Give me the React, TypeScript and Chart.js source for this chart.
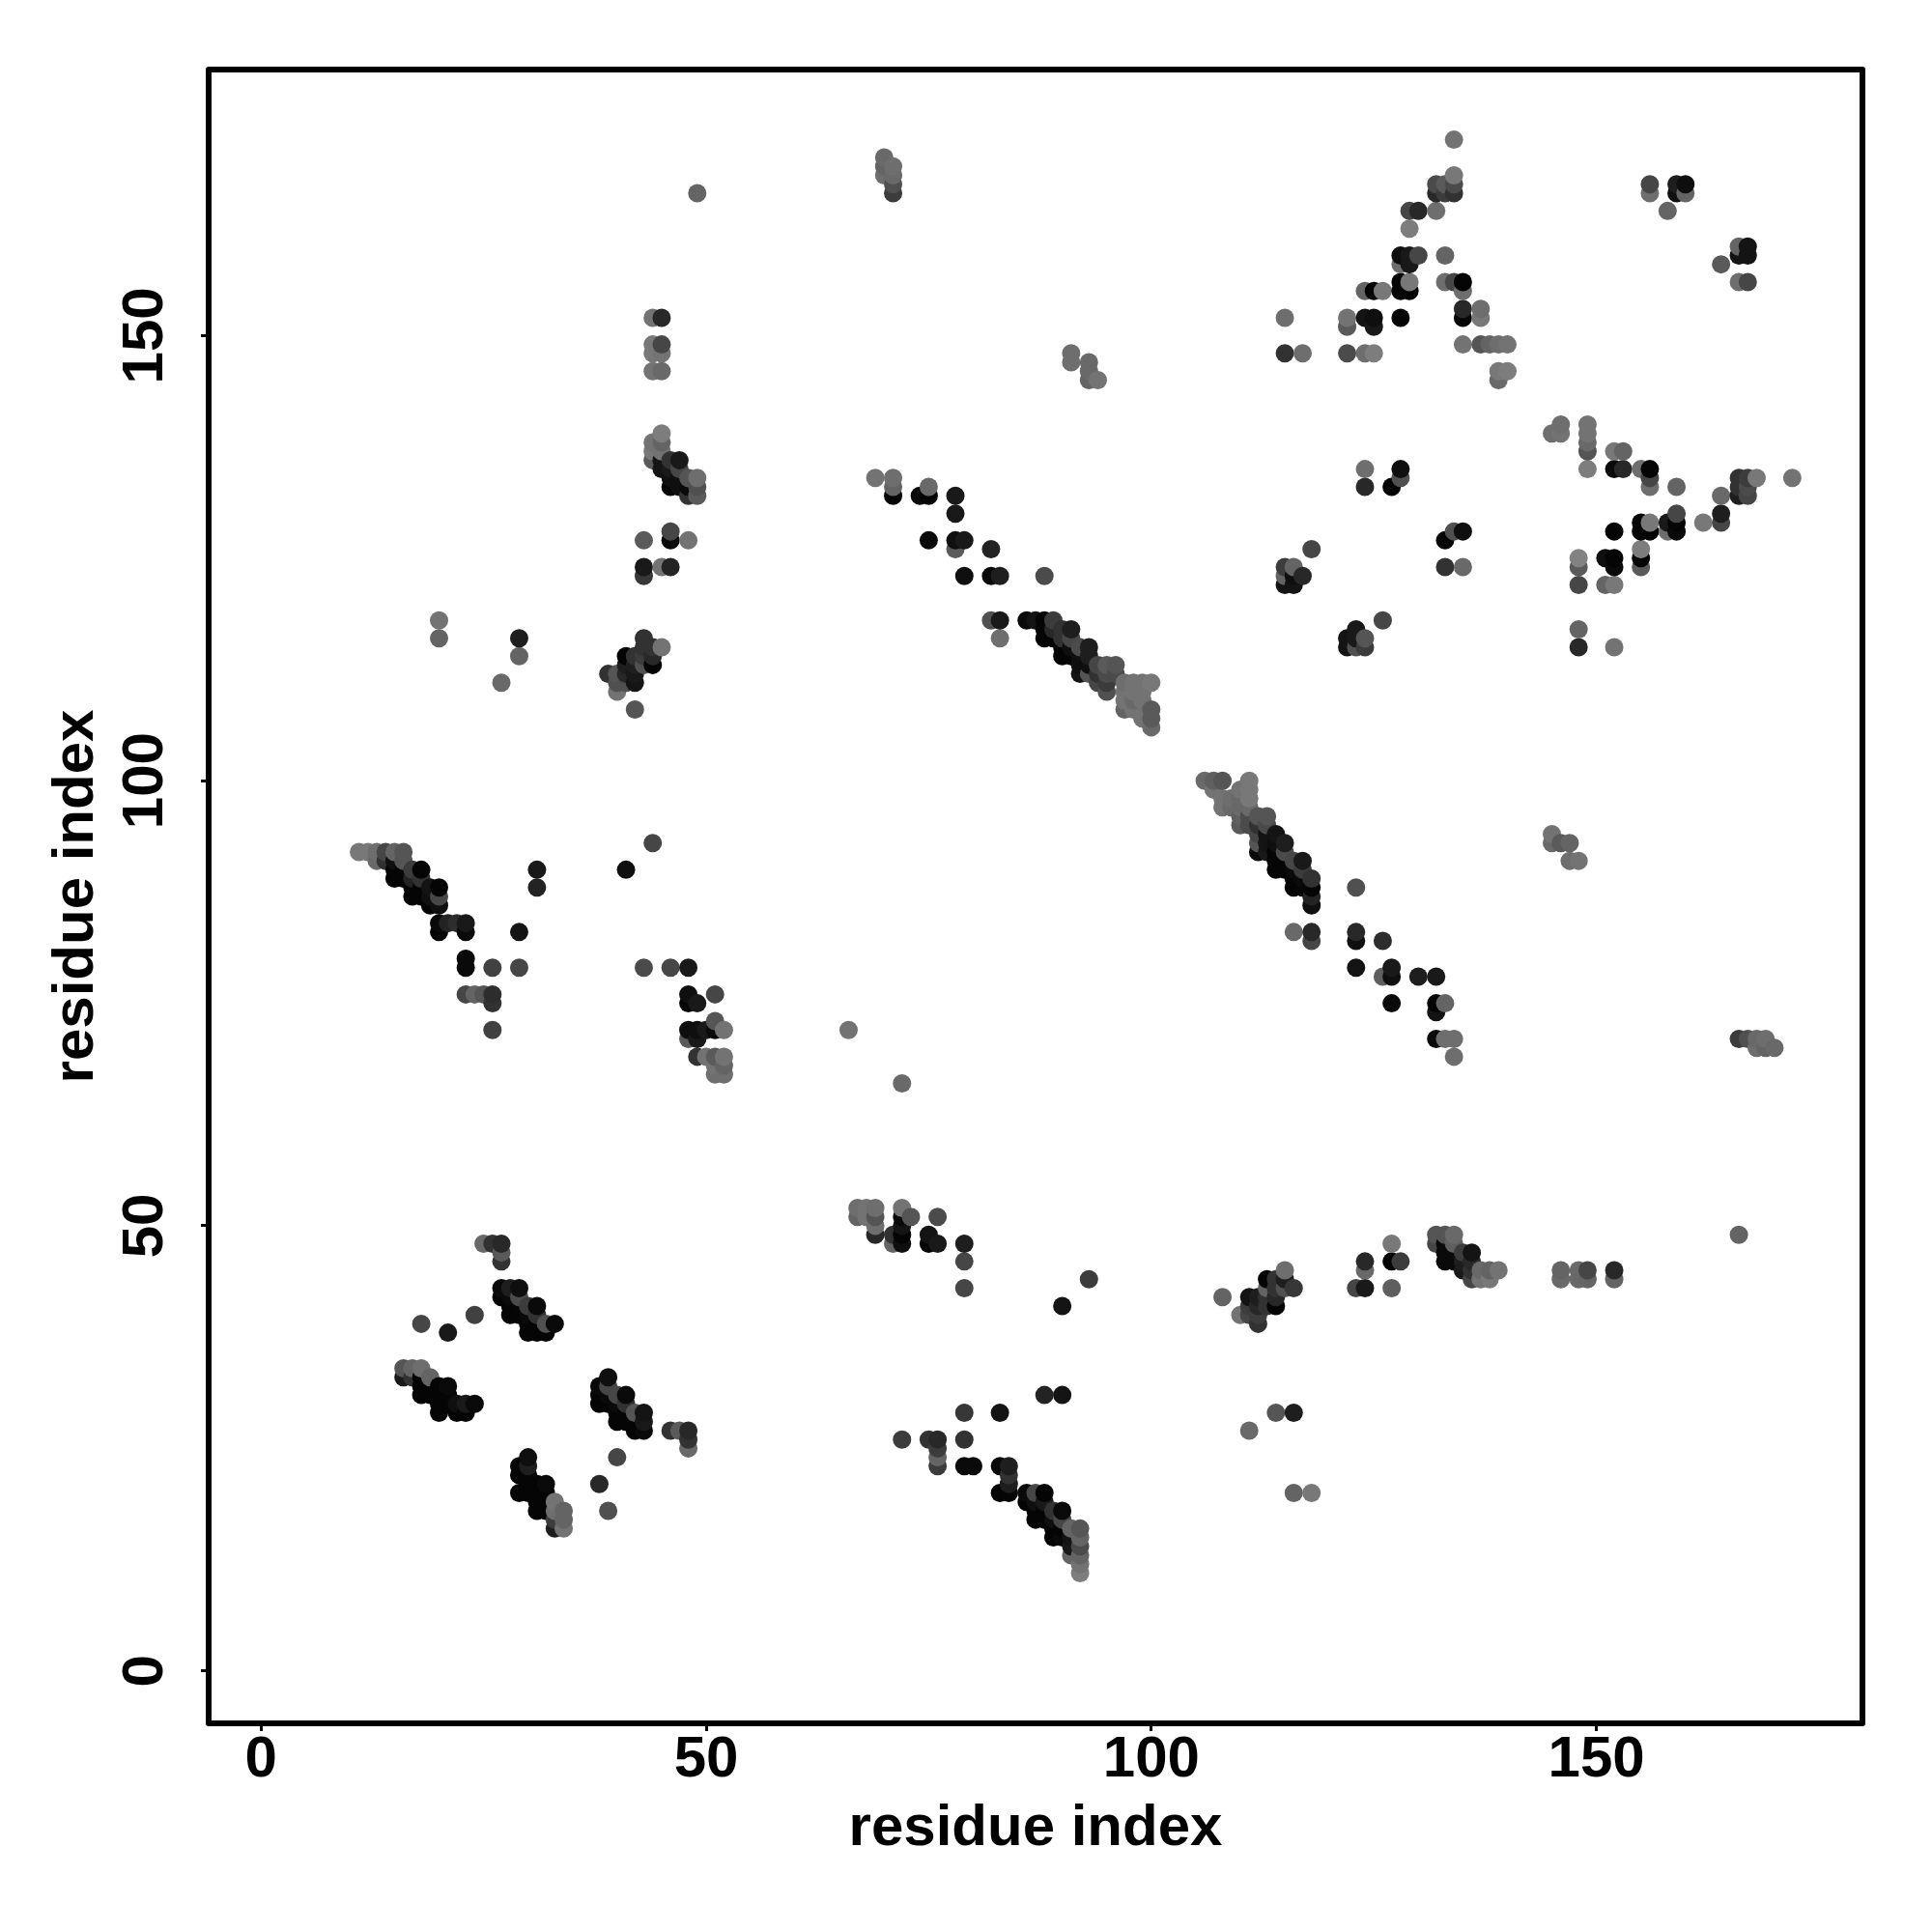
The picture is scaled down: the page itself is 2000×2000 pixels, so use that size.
import React, { useEffect, useRef } from "react";
import { Chart, registerables } from "chart.js";

Chart.register(...registerables);

type Contact = [number, number, number]; // residue x, residue y, grey level

const axisTicks = [0, 50, 100, 150];
const axisTitle = "residue index";

const strandA: Contact[] = [
  [11,92,120],[12,92,120],[13,92,110],[14,92,70],[15,92,100],[16,92,85],
  [13,91,105],[14,91,50],[15,91,15],[16,91,85],
  [15,90,5],[16,90,5],[17,90,60],[18,90,5],
  [15,89,5],[16,89,5],[17,89,35],[18,89,50],
  [17,88,5],[18,88,5],[19,88,20],[20,88,5],
  [17,87,5],[18,87,5],[19,87,15],[20,87,70],
  [19,86,5],[20,86,15],
  [20,84,10],[21,84,35],[22,84,45],[23,84,25],[20,83,5],[23,83,10],
];

const strandATail: Contact[] = [
  [23,80,10],[23,79,10],[26,79,65],[29,79,70],
  [23,76,70],[24,76,100],[25,76,85],[26,76,45],[26,75,50],[26,72,65],
  [31,90,25],[31,88,35],[29,83,20],[41,90,15],[44,93,70],
];

const cluster48: Contact[] = [
  [43,79,75],[46,79,70],[48,79,25],[48,76,15],[48,75,5],[49,75,25],[51,76,70],
  [48,72,15],[49,72,15],[50,72,25],[51,73,85],[51,72,10],[52,72,115],[48,71,90],[49,71,25],
  [49,69,50],[50,69,115],[51,69,90],[52,69,115],[51,68,115],[52,68,100],[51,67,110],[52,67,110],
  [66,72,115],[72,66,105],
];

const strandAMirror: Contact[] = [
  [83,20,5],[84,20,5],[84,21,30],[84,22,50],[84,23,30],[83,23,10],[79,23,10],[80,23,10],
  [76,23,60],[76,24,100],[76,25,60],[76,26,40],[75,26,50],[72,26,60],[79,26,50],
  [79,29,55],[83,29,20],[88,31,35],[90,31,20],[90,41,20],[93,44,60],[79,43,70],[79,46,70],[79,48,30],
  [86,20,10],[87,20,70],[88,20,5],
  [86,19,5],[87,19,15],[88,19,25],
  [87,18,5],[88,18,5],[89,18,50],[90,18,10],
  [87,17,5],[88,17,5],[89,17,15],[90,17,70],
  [89,16,5],[90,16,5],[91,16,100],[92,16,85],
  [89,15,5],[90,15,10],[91,15,20],[92,15,100],
  [91,14,25],[92,14,75],[91,13,100],[92,13,100],[92,12,115],[92,11,125],
];

const cluster70Low: Contact[] = [
  [67,52,110],[68,52,115],[69,52,110],[72,52,115],
  [67,51,100],[68,51,115],[69,51,85],[72,51,10],[73,51,85],[76,51,75],
  [69,50,110],[72,50,20],
  [69,49,40],[71,49,50],[72,49,5],[75,49,20],
  [71,48,100],[72,48,15],[75,48,5],[76,48,25],
];

const strandB: Contact[] = [
  [16,34,85],[17,34,100],[18,34,110],[16,33,25],[17,33,50],[18,33,5],[19,33,100],
  [18,32,5],[19,32,5],[20,32,5],[21,32,10],
  [18,31,5],[19,31,5],[20,31,5],[21,31,5],
  [20,30,5],[21,30,5],[22,30,15],[23,30,25],[24,30,10],
  [20,29,5],[22,29,5],[23,29,5],
];

const strandBMirror: Contact[] = [
  [30,24,15],[29,23,5],[30,23,30],[29,22,5],[30,22,5],[30,21,5],[31,21,5],[32,21,10],
  [29,20,5],[30,20,5],[31,20,5],[32,20,5],[31,19,5],[32,19,5],[33,19,115],
  [31,18,5],[32,18,5],[33,18,110],[34,18,100],[33,17,60],[34,17,100],[33,16,30],[34,16,115],
];

const loose20to48: Contact[] = [
  [18,39,70],[21,38,25],[24,40,65],[25,48,105],[26,48,50],[27,48,40],[27,47,90],[27,46,50],
  [48,25,105],[48,26,50],[48,27,40],[47,27,90],[46,27,50],[38,21,40],[40,24,70],[39,18,80],
];

const strandC: Contact[] = [
  [27,43,10],[28,43,30],[29,43,15],[27,42,5],[28,42,10],[29,42,75],
  [28,41,5],[29,41,5],[30,41,60],[31,41,10],[28,40,5],[29,40,5],[30,40,10],[31,40,50],
  [30,39,5],[31,39,5],[32,39,80],[33,39,10],[30,38,5],[31,38,5],[32,38,5],
];

const strandCMirror: Contact[] = [
  [39,33,15],[38,32,10],[39,32,70],[38,31,5],[39,31,10],[40,31,70],[41,31,10],
  [38,30,5],[39,30,5],[40,30,10],[41,30,50],[40,29,5],[41,29,5],[42,29,85],[43,29,20],
  [40,28,5],[41,28,5],[42,28,5],[43,28,25],[42,27,5],[43,27,10],
];

const column44: Contact[] = [
  [44,152,115],[45,152,40],[44,149,120],[45,149,70],[44,148,120],[45,148,115],[44,146,115],[45,146,105],
  [45,139,125],[44,138,115],[45,138,100],[44,137,120],[45,137,115],[44,136,90],[45,136,20],[46,136,50],[47,136,25],
  [45,135,20],[46,135,25],[47,135,70],[46,134,15],[47,134,15],[48,134,85],[49,134,110],
  [46,133,5],[47,133,15],[48,133,10],[49,133,80],[48,132,50],[49,132,90],
  [43,127,90],[46,128,70],[46,127,10],[48,127,115],[43,124,25],[43,123,55],[45,124,115],[46,124,35],
  [43,116,50],[43,115,50],[44,115,50],[45,115,115],[41,114,5],[42,114,50],[43,114,60],[44,114,40],
  [41,113,30],[42,113,30],[43,113,80],[44,113,5],[39,112,50],[40,112,85],[41,112,40],[42,112,25],
  [40,111,80],[41,111,80],[42,111,20],[40,110,115],[42,108,85],
  [20,118,115],[20,116,100],[29,116,30],[29,114,100],[27,111,105],[49,166,100],
];

const column44Mirror: Contact[] = [
  [108,42,100],[111,42,20],[112,42,30],[113,42,50],[114,42,40],
  [113,44,5],[114,44,50],[115,45,110],[115,44,30],[116,43,55],[114,43,50],[115,43,80],[113,43,100],
  [111,41,60],[112,41,40],[113,41,50],[114,41,5],[110,40,115],[111,40,70],[112,40,60],[112,39,50],
  [118,20,120],[116,20,100],[116,29,30],[114,29,85],[111,27,105],[166,49,100],
  [123,43,70],[124,43,25],[127,43,95],[124,45,105],[124,46,40],[127,46,5],[128,46,60],[127,48,120],
  [132,49,85],[133,49,85],[134,49,105],[132,48,70],[133,48,10],[134,48,95],
  [133,47,10],[134,47,10],[135,47,60],[136,47,20],[133,46,10],[134,46,10],[135,46,30],[136,46,40],
  [135,45,25],[136,45,50],[137,45,105],[138,45,100],[139,45,115],[136,44,70],[137,44,115],[138,44,120],
  [146,45,100],[146,44,105],[148,45,105],[149,45,70],[148,44,105],[149,44,100],[152,45,40],[152,44,100],
];

const cluster70High: Contact[] = [
  [70,170,105],[70,169,100],[70,168,110],[71,169,110],[71,168,105],[71,167,80],[71,166,60],
  [166,71,60],[167,71,80],[168,71,105],[169,71,110],[168,70,110],[169,70,100],[170,70,105],
  [91,148,110],[91,147,110],[93,147,105],[93,146,105],[93,145,100],[94,145,115],
  [145,94,115],[145,93,105],[146,93,90],[147,93,100],[147,91,110],[148,91,115],
];

const strandD: Contact[] = [
  [69,134,115],[71,134,110],[71,133,100],[71,132,5],[74,132,10],[75,132,5],[75,133,105],
  [78,132,25],[78,130,25],[75,127,10],[78,127,15],[79,127,25],[78,126,90],[82,126,35],
  [79,123,15],[82,123,10],[83,123,30],[88,123,75],[82,118,80],[83,118,25],[83,116,110],
  [86,118,10],[87,118,20],[88,118,5],[89,118,60],
  [88,117,5],[89,117,40],[90,117,50],[91,117,30],
  [88,116,5],[89,116,5],[90,116,50],[91,116,70],
  [90,115,5],[91,115,15],[92,115,75],[93,115,30],
  [90,114,5],[91,114,5],[92,114,15],[93,114,30],
  [92,113,15],[93,113,15],[94,113,70],[95,113,90],[96,113,85],
  [92,112,20],[93,112,85],[94,112,50],[95,112,75],[96,112,75],
  [94,111,70],[95,111,60],[97,111,110],[98,111,115],[99,111,115],[100,111,120],
  [95,110,80],[97,110,115],[98,110,115],[99,110,115],
  [97,109,115],[98,109,105],[99,109,115],
  [97,108,100],[98,108,115],[100,108,90],
  [99,107,115],[100,107,90],[100,106,105],
];

const strandDMirror: Contact[] = [
  [106,100,105],[107,100,95],[108,100,85],[111,100,120],
  [107,99,115],[110,99,115],[111,99,120],
  [108,98,115],[109,98,110],[110,98,105],[111,98,120],
  [108,97,115],[109,97,105],[110,97,105],[111,97,105],
  [110,96,95],[111,96,75],[112,96,85],[113,96,85],
  [110,95,90],[111,95,75],[112,95,50],[113,95,75],
  [112,94,70],[113,94,20],[114,94,20],
  [112,93,85],[113,93,20],[114,93,15],[115,93,30],
  [112,92,10],[113,92,25],[114,92,5],[115,92,75],
  [114,91,5],[115,91,5],[116,91,70],[117,91,25],
  [114,90,5],[115,90,5],[116,90,10],[117,90,60],
  [116,89,5],[117,89,10],[118,89,50],
  [116,88,5],[117,88,5],[118,88,5],[118,87,35],[118,86,15],
  [123,88,80],[116,83,105],[118,83,40],[118,82,70],[123,83,40],[123,82,15],[126,82,45],
  [123,79,20],[127,79,25],[126,78,95],[127,78,15],[130,78,30],[132,78,25],
  [127,75,10],[132,75,5],[133,75,100],[132,74,20],
  [132,71,10],[133,71,110],[134,71,110],[134,69,110],
];

const apex134: Contact[] = [
  [134,172,115],[134,168,120],[132,167,75],[133,167,90],[134,167,75],[132,166,40],[133,166,60],[134,166,50],
  [129,164,70],[130,164,40],[132,164,110],[129,162,125],
  [128,159,15],[129,159,25],[130,159,70],[133,159,100],[128,158,110],[129,158,25],
  [128,156,5],[129,156,120],[133,156,110],[134,156,70],[135,156,5],
  [124,155,100],[125,155,5],[126,155,120],[128,155,5],[129,155,5],[135,155,110],
  [115,152,110],[122,152,115],[124,152,20],[125,152,15],[128,152,5],[135,153,40],[135,152,5],[137,153,110],[137,152,120],
  [122,151,90],[125,151,25],
  [115,148,50],[117,148,110],[122,148,75],[124,148,110],[125,148,125],
  [135,149,115],[137,149,85],[138,149,100],[139,149,110],[140,149,115],
  [139,146,120],[140,146,125],[139,145,105],
];

const corner160: Contact[] = [
  [156,167,70],[156,166,110],[159,167,30],[160,167,15],[159,166,15],[160,166,100],[158,164,100],
  [167,160,20],[166,160,100],[166,159,20],[167,159,20],[164,158,90],[166,156,110],[167,156,70],
];

const apex134Mirror: Contact[] = [
  [146,140,110],[145,139,110],[146,139,115],[149,140,115],[149,139,115],[149,138,105],[149,137,85],[149,135,125],
  [152,137,120],[153,137,100],[152,135,10],[153,135,40],
  [155,135,110],[156,135,5],[156,134,70],[156,133,110],[159,133,100],
  [166,134,50],[167,134,60],[168,134,120],[172,134,115],[166,133,50],[167,133,75],[166,132,30],[167,132,70],[164,132,105],
  [164,130,30],[164,129,70],[162,129,120],[159,130,70],[159,129,5],[159,128,10],[158,129,25],[158,128,110],
  [155,129,5],[156,129,120],[155,128,5],[156,128,5],[152,128,5],
  [151,125,15],[152,125,5],[152,124,10],[155,126,125],[155,125,5],[155,124,90],
  [148,125,130],[148,124,90],[148,122,70],[151,122,100],[152,122,120],
  [148,117,100],[148,115,40],[152,115,115],
];

const middle125: Contact[] = [
  [124,135,110],[128,135,15],[128,134,80],[124,133,40],[127,133,5],
  [135,128,15],[134,128,80],[133,127,5],[133,124,50],[135,124,105],
  [118,126,70],[115,124,60],[116,124,100],[115,123,100],[116,123,15],[117,123,40],[115,122,20],[116,122,20],
  [126,118,70],[123,117,25],[122,116,20],[123,116,25],[124,116,85],[122,115,20],[123,115,80],[124,115,60],
];

const contacts: Contact[] = [
  ...strandA, ...strandATail, ...cluster48, ...strandAMirror, ...cluster70Low, ...strandB, ...strandBMirror,
  ...loose20to48, ...strandC, ...strandCMirror, ...column44, ...column44Mirror, ...cluster70High,
  ...strandD, ...strandDMirror, ...apex134, ...corner160, ...apex134Mirror, ...middle125,
];

// Draw order: columns left to right, and upward inside a column.
const ordered = [...contacts].sort((a, b) => a[0] - b[0] || a[1] - b[1]);

const frame = {
  id: "frame",
  afterDatasetsDraw(chart: any) {
    const { ctx, chartArea: a } = chart;
    ctx.save();
    ctx.strokeStyle = "#000";
    ctx.lineWidth = 6;
    ctx.lineJoin = "round";
    ctx.strokeRect(a.left, a.top, a.right - a.left, a.bottom - a.top);
    ctx.restore();
  },
};

const FONT = "'Liberation Sans', Arial, sans-serif";

export default function App() {
  const ref = useRef<HTMLCanvasElement | null>(null);
  useEffect(() => {
    const setTicks = (s: any) => {
      s.ticks = axisTicks.map((value) => ({ value }));
    };
    const chart = new Chart(ref.current as HTMLCanvasElement, {
      type: "scatter",
      data: {
        datasets: [
          {
            data: ordered.map((c) => ({ x: c[0], y: c[1] })),
            backgroundColor: ordered.map((c) => `rgb(${c[2]},${c[2]},${c[2]})`),
            borderWidth: 0,
            pointRadius: 9.5,
            pointHoverRadius: 9.5,
            showLine: false,
          },
        ],
      },
      plugins: [frame],
      options: {
        animation: false,
        responsive: false,
        devicePixelRatio: 1,
        events: [],
        layout: { padding: { top: 72, right: 72 } },
        plugins: { legend: { display: false }, tooltip: { enabled: false } },
        scales: {
          x: {
            type: "linear",
            min: -5.88,
            max: 179.88,
            afterBuildTicks: setTicks,
            afterFit: (s: any) => { s.height = 216; },
            border: { display: false },
            grid: { drawOnChartArea: false, drawTicks: true, tickLength: 8, tickWidth: 3, tickColor: "#000" },
            ticks: {
              autoSkip: false, maxRotation: 0, minRotation: 0, padding: -6, color: "#000",
              font: { family: FONT, size: 60, weight: "bold" },
              callback: (v: any) => String(v),
            },
            title: {
              display: true, text: axisTitle, color: "#000", padding: { top: 0, bottom: 71 },
              font: { family: FONT, size: 60, weight: "bold" },
            },
          },
          y: {
            type: "linear",
            min: -5.88,
            max: 179.88,
            afterBuildTicks: setTicks,
            afterFit: (s: any) => { s.width = 216; },
            border: { display: false },
            grid: { drawOnChartArea: false, drawTicks: true, tickLength: 8, tickWidth: 3, tickColor: "#000" },
            ticks: {
              autoSkip: false, minRotation: 90, maxRotation: 90, padding: 6.5, crossAlign: "center", color: "#000",
              font: { family: FONT, size: 60, weight: "bold" },
              callback: (v: any) => String(v),
            },
            title: {
              display: true, text: axisTitle, color: "#000", padding: { top: 43, bottom: 0 },
              font: { family: FONT, size: 60, weight: "bold" },
            },
          },
        },
      },
    } as any);
    return () => chart.destroy();
  }, []);
  return (
    <div style={{ position: "absolute", left: 0, top: 0, width: 2000, height: 2000, background: "#fff" }}>
      <canvas ref={ref} width={2000} height={2000} style={{ display: "block" }} />
    </div>
  );
}
